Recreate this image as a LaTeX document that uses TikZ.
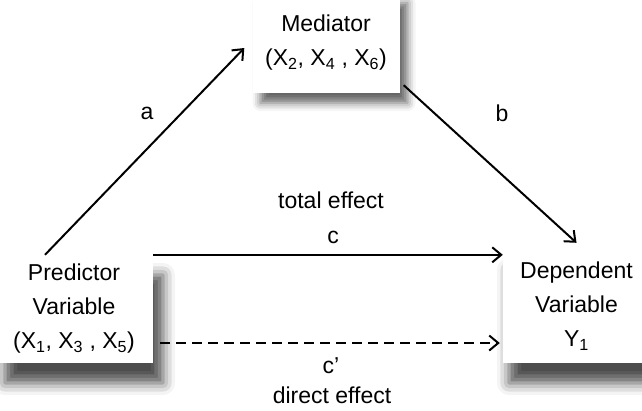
\documentclass[tikz,border=0pt]{standalone}
\usepackage{fontspec}
\setmainfont{Liberation Sans}
\usetikzlibrary{arrows.meta,positioning,shadows.blur}

\begin{document}
\begin{tikzpicture}[x=1pt, y=-1pt,
  var/.style={fill=white, align=center, inner sep=0pt,
              font=\fontsize{23}{34}\selectfont},
  shd/.style={blur shadow={shadow xshift=#1, shadow yshift=-20pt,
                           shadow blur radius=12pt, shadow opacity=70}},
  lbl/.style={font=\fontsize{23}{28}\selectfont, inner sep=1pt},
  ar/.style={-{Straight Barb[length=9pt, width=15pt]}, line width=2pt}
]
  \useasboundingbox (0,0) rectangle (642,410);
  \node[var, blur shadow={shadow xshift=8pt, shadow yshift=-10pt,
        shadow blur radius=8pt, shadow opacity=60},
        minimum width=147pt, minimum height=100pt] (med) at (326,43)
    {Mediator\\(X\textsubscript{2}, X\textsubscript{4} , X\textsubscript{6})};
  \node[var, shd=10pt, minimum width=158pt, minimum height=108pt] (pred) at (74,309)
    {Predictor\\Variable\\(X\textsubscript{1}, X\textsubscript{3} , X\textsubscript{5})};
  \node[var, shd=6pt, minimum width=147pt, minimum height=113pt] (dep) at (576.5,306.5)
    {Dependent\\Variable\\Y\textsubscript{1}};
  % paths
  \draw[ar] ([xshift=-29pt]pred.north) -- ([xshift=-8pt,yshift=-5pt]med.west);
  \draw[ar] ([xshift=4pt,yshift=8pt]med.south east) -- ([yshift=7pt]dep.north);
  \draw[ar] (pred.north east) -- (pred.north east -| dep.west);
  \coordinate (cdir) at ([xshift=7pt,yshift=-34pt]pred.east);
  \coordinate (cend) at (cdir -| dep.west);
  \draw[ar, dash pattern=on 10pt off 6pt] (cdir) -- ([xshift=-3pt]cend);
  % labels
  \node[lbl] (la) at (147,113) {a};
  \node[lbl] (lb) at (502,113) {b};
  \node[lbl] (lc) at (333,237) {c};
  \node[lbl] (ltot) at (331,200) {total effect};
  \node[lbl] (lcp) at (331,366) {c'};
  \node[lbl] (ldir) at (332,395) {direct effect};
\end{tikzpicture}
\end{document}
